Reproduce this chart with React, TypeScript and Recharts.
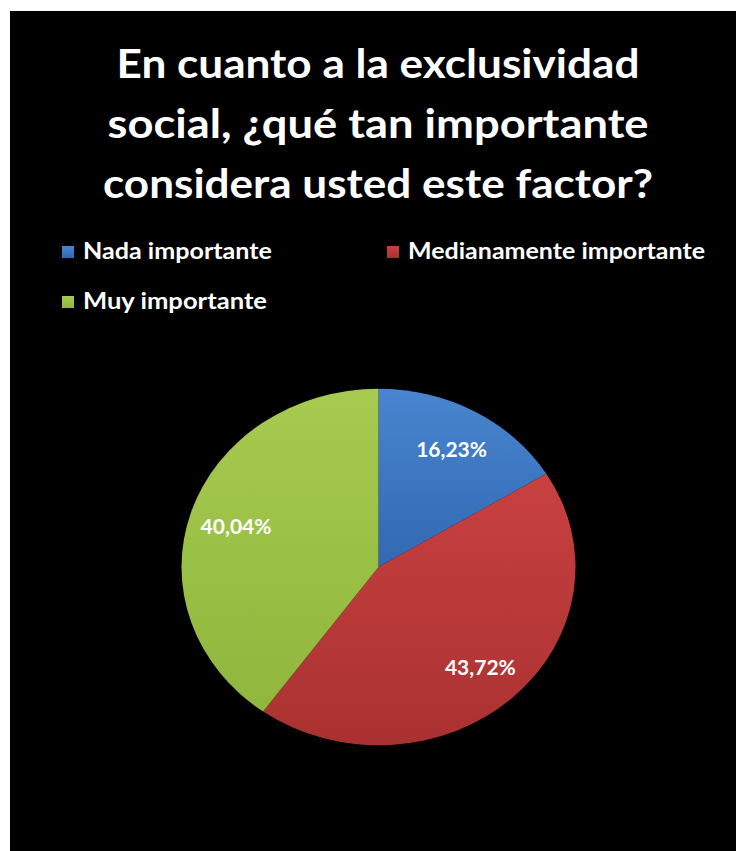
import React from "react";
import { PieChart, Pie, Cell, Legend } from "recharts";

// chart values
const categories = ["Nada importante", "Medianamente importante", "Muy importante"];
const percentages = [16.23, 43.72, 40.04];
const titleLines = [
  "En cuanto a la exclusividad",
  "social, ¿qué tan importante",
  "considera usted este factor?",
];

const gradientIds = ["gBlue", "gRed", "gGreen"];
const gradientStops = [
  ["#4985d0", "#3169b2"],
  ["#c94141", "#aa3131"],
  ["#a7cb50", "#90b63d"],
];

const data = categories.map((name, i) => ({ name, value: percentages[i] }));

const RAD = Math.PI / 180;
const SQUASH = 0.905; // excel's tilted pie looks a bit flat

const W = 726;
const H = 840;

// pie drawn as an ellipse
const ovalSector = (props: any) => {
  const { cx, cy, outerRadius, startAngle, endAngle, fill } = props;
  const ry = outerRadius * SQUASH;
  const pt = (a: number) => [
    cx + outerRadius * Math.cos(-a * RAD),
    cy + ry * Math.sin(-a * RAD),
  ];
  const [x1, y1] = pt(startAngle);
  const [x2, y2] = pt(endAngle);
  const large = Math.abs(endAngle - startAngle) > 180 ? 1 : 0;
  const sweep = startAngle > endAngle ? 1 : 0;
  return (
    <path
      d={`M${cx},${cy} L${x1},${y1} A${outerRadius},${ry} 0 ${large} ${sweep} ${x2},${y2} Z`}
      fill={fill}
    />
  );
};

const renderLabel = (props: any) => {
  const { cx, cy, midAngle, outerRadius, value } = props;
  const r = outerRadius * 0.76;
  const x = cx + r * Math.cos(-midAngle * RAD);
  const y = cy + r * SQUASH * Math.sin(-midAngle * RAD);
  return (
    <text
      x={x}
      y={y}
      fill="#ffffff"
      textAnchor="middle"
      dominantBaseline="central"
      fontFamily="Lato, 'Open Sans', sans-serif"
      fontWeight="bold"
      fontSize={21}
    >
      {value.toFixed(2).replace(".", ",") + "%"}
    </text>
  );
};

const legendCols = [52, 377];
const legendRows = [248, 298];
const legendWidths = [189, 297, 184];

const renderLegend = (props: any) => {
  const { payload } = props;
  return (
    <svg width={W} height={330}>
      {(payload || []).map((entry: any) => {
        const i = categories.indexOf(entry.value);
        const x = legendCols[i % 2];
        const y = legendRows[Math.floor(i / 2)];
        return (
          <g key={entry.value}>
            <rect x={x} y={y - 13} width={12} height={12} fill={entry.color} />
            <text
              x={x + 21}
              y={y}
              fill="#ffffff"
              fontFamily="Lato, 'Open Sans', sans-serif"
              fontWeight="bold"
              fontSize={22}
              textLength={legendWidths[i]}
              lengthAdjust="spacingAndGlyphs"
            >
              {entry.value}
            </text>
          </g>
        );
      })}
    </svg>
  );
};

export default function App() {
  return (
    <div
      style={{
        position: "fixed",
        left: 0,
        top: 0,
        width: 736,
        height: 851,
        background: "#ffffff",
        overflow: "hidden",
      }}
    >
      <div
        style={{
          position: "absolute",
          left: 10,
          top: 11,
          width: W,
          height: H,
          background: "#000000",
        }}
      >
        <PieChart width={W} height={H} margin={{ top: 0, right: 0, bottom: 0, left: 0 }}>
          <defs>
            {gradientIds.map((id, i) => (
              <linearGradient key={id} id={id} x1="0" y1="0" x2="0" y2="1">
                <stop offset="0%" stopColor={gradientStops[i][0]} />
                <stop offset="100%" stopColor={gradientStops[i][1]} />
              </linearGradient>
            ))}
          </defs>
          <Legend
            layout="horizontal"
            verticalAlign="middle"
            align="center"
            content={renderLegend}
            wrapperStyle={{ left: 0, top: 0, width: W, height: 330 }}
          />
          <Pie
            data={data}
            dataKey="value"
            nameKey="name"
            cx={368.5}
            cy={556}
            outerRadius={197}
            startAngle={90}
            endAngle={-270}
            stroke="none"
            shape={ovalSector}
            label={renderLabel}
            labelLine={false}
            isAnimationActive={false}
          >
            {data.map((d, i) => (
              <Cell key={d.name} fill={`url(#${gradientIds[i]})`} />
            ))}
          </Pie>
        </PieChart>
        <svg
          width={W}
          height={210}
          style={{ position: "absolute", left: 0, top: 0, pointerEvents: "none" }}
        >
          {titleLines.map((line, i) => (
            <text
              key={line}
              x={368}
              y={67 + i * 60}
              fill="#ffffff"
              textAnchor="middle"
              fontFamily="Lato, 'Open Sans', sans-serif"
              fontWeight="bold"
              fontSize={41}
              textLength={[523, 541, 550][i]}
              lengthAdjust="spacingAndGlyphs"
            >
              {line}
            </text>
          ))}
        </svg>
      </div>
    </div>
  );
}
